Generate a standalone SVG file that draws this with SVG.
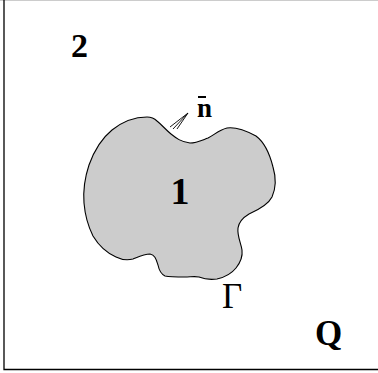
<svg xmlns="http://www.w3.org/2000/svg" width="378" height="373" viewBox="0 0 378 373">
<style>
.lbl{font-family:"Liberation Serif","Times New Roman",serif;font-weight:bold;fill:#000}
.frame{stroke:#000;stroke-width:1.3;fill:none}
.conn{stroke:#000;stroke-width:0.9;fill:none}
</style>
<rect width="378" height="373" fill="#fff"/>
<g id="frame">
<line x1="0" y1="0.5" x2="378" y2="0.5" stroke="#ccc" stroke-width="1"/>
<polyline class="frame" points="4,0 4,369.5 378,369.5"/>
</g>
<g id="region1">
<path d="M147,117 C151,117 154,118 157,121 C162,125 166,130 171,134 C176,138 181,142 190,143 C196,143 200,141 208,138 C214,135 219,130 227,128 C234,127 243,129 256,136 C264,142 270,155 273,167 C276,177 276,188 272,197 C268,205 258,210 249,214 C244,217 239,221 238,228 C237,236 241,243 242,250 C243,258 240,263 236,268 C232,273 226,277 217,279 C210,280 204,279 199,277 C195,276 190,277 185,277 C178,277 170,277 165,276 C161,274 159,270 158,265 C156,259 155,255 150,254 C144,254 138,257 133,259 C129,260 124,261 116,257 C107,253 99,246 93,236 C88,226 85,215 84,203 C83,190 85,177 89,165 C94,151 101,139 112,130 C122,122 134,117 147,117 Z" fill="#cccccc" stroke="#000" stroke-width="1.1"/>
<text class="lbl" x="180" y="204" font-size="38" text-anchor="middle">1</text>
</g>
<g id="connectors">
<line class="conn" x1="170" y1="127" x2="188" y2="113"/>
<line class="conn" x1="173" y1="129" x2="188" y2="113"/>
<line class="conn" x1="177" y1="129" x2="188" y2="113"/>
</g>
<g id="normal">
<text class="lbl" x="197" y="117" font-size="27">n</text>
<line x1="198" y1="97" x2="206" y2="97" stroke="#000" stroke-width="2"/>
</g>
<g id="region2">
<text class="lbl" x="71" y="57" font-size="34">2</text>
</g>
<g id="gamma">
<text x="222" y="308" font-family="'Liberation Serif','Times New Roman',serif" font-size="35">Γ</text>
</g>
<g id="q">
<text class="lbl" x="315" y="345" font-size="35">Q</text>
</g>
</svg>
